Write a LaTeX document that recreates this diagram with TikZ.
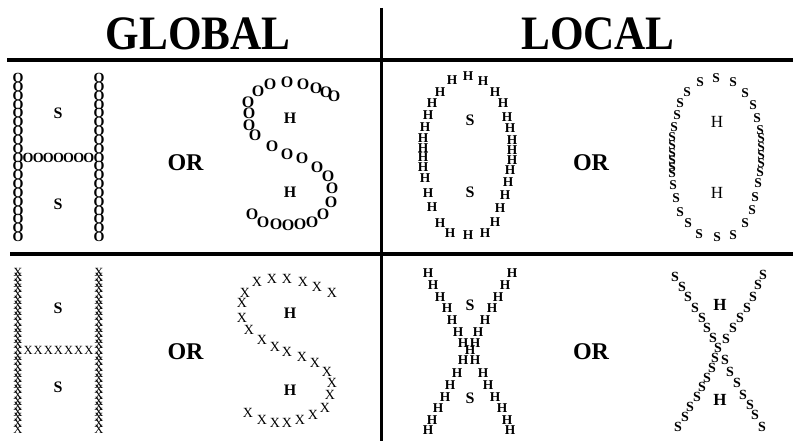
\documentclass[tikz,border=0pt]{standalone}
\usepackage{graphicx}
\usepackage{fontspec}
\setmainfont{Liberation Serif}
\begin{document}
\begin{tikzpicture}[x=1pt,y=-1pt,
  every node/.style={inner sep=0pt, outer sep=0pt},
  rule/.style={line width=3.5pt, line cap=butt},
  title/.style={font=\bfseries\fontsize{48}{48}\selectfont, anchor=base},
  ortxt/.style={font=\bfseries\fontsize{24}{24}\selectfont},
  lab/.style={font=\bfseries\fontsize{16}{16}\selectfont},
  labr/.style={font=\fontsize{17}{17}\selectfont},
  oh/.style={font=\bfseries\fontsize{14}{14}\selectfont},
  os/.style={font=\bfseries\fontsize{16}{16}\selectfont},
  ho/.style={font=\bfseries\fontsize{13.5}{13.5}\selectfont},
  so/.style={font=\bfseries\fontsize{13.5}{13.5}\selectfont},
  xh/.style={font=\fontsize{12.5}{12.5}\selectfont},
  xs/.style={font=\fontsize{14}{14}\selectfont},
  hx/.style={font=\bfseries\fontsize{13.5}{13.5}\selectfont},
  sx/.style={font=\bfseries\fontsize{14}{14}\selectfont}
]
\useasboundingbox (0,0) rectangle (793,441);

% frame lines
\coordinate (tl) at (7,60);   \coordinate (tr) at (793,60);
\coordinate (ml) at (10,254); \coordinate (mr) at (793,254);
\coordinate (vt) at (381,8);  \coordinate (vb) at (381,441);
\draw[rule] (tl) -- (tr);
\draw[rule] (ml) -- (mr);
\draw[rule, line width=3pt] (vt) -- (vb);

% titles
\node[title] (tglobal) at (198,50) {\scalebox{0.9}[1]{GLOBAL}};
\node[title] (tlocal) at (598,50) {\scalebox{0.9}[1]{LOCAL}};

% OR labels
\node[ortxt] (or1) at (185.5,163) {OR};
\node[ortxt] (or2) at (591,163) {OR};
\node[ortxt] (or3) at (185.5,352) {OR};
\node[ortxt] (or4) at (591,352) {OR};

% ---------- Panel 1: H made of O ----------
\foreach \k in {0,...,18} {
  \node[oh] (p1l\k) at (18,{78+\k*8.833}) {O};
  \node[oh] (p1r\k) at (99,{78+\k*8.833}) {O};
}
\foreach \k in {1,...,7} \node[oh] (p1c\k) at ({18+\k*10.125},157.5) {O};
\node[lab] (p1s1) at (58,113) {S};
\node[lab] (p1s2) at (58,204) {S};

% ---------- Panel 2: S made of O ----------
\foreach \x/\y [count=\i] in {258/91,270/84,287/82,303/84,316/88,326/92,334/96,
  248/102,249/113,249/125,255/135,272/146,287/154,302/158,317/167,328/176,
  332/188,331/202,323/214,312/222,300/224,288/225,276/224,263/222,252/214}
  \node[os] (p2o\i) at (\x,\y) {O};
\node[lab] (p2h1) at (290,118) {H};
\node[lab] (p2h2) at (290,192) {H};

% ---------- Panel 3: O made of H ----------
\foreach \x/\y [count=\i] in {452/80,468/76,483/81,495/92,503/103,507/117,510/128,
  512/140,512/150,512/160,510/170,508/182,505/195,500/208,495/222,485/233,
  468/235,450/233,440/223,432/207,428/193,425/178,423/167,423/157,423/148,
  423/138,425/127,428/115,432/103,440/92}
  \node[ho] (p3h\i) at (\x,\y) {H};
\node[lab] (p3s1) at (470,120) {S};
\node[lab] (p3s2) at (470,192) {S};

% ---------- Panel 4: O made of S ----------
\foreach \x/\y [count=\i] in {700/82,716/78,733/82,745/93,753/105,757/118,760/130,
  761/138,761/147,761/155,761/163,760/172,758/183,755/197,752/210,745/223,
  733/235,717/237,699/234,688/223,680/212,676/198,673/185,672/173,672/167,
  672/160,672/153,672/145,672/137,674/127,677/115,680/103,687/92}
  \node[so] (p4s\i) at (\x,\y) {S};
\node[labr] (p4h1) at (717,122) {H};
\node[labr] (p4h2) at (717,193) {H};

% ---------- Panel 5: H made of X ----------
\foreach \k in {0,...,28} {
  \node[xh] (p5l\k) at (18,{272+\k*5.607}) {X};
  \node[xh] (p5r\k) at (99,{272+\k*5.607}) {X};
}
\foreach \k in {1,...,7} \node[xh] (p5c\k) at ({18+\k*10.125},350.5) {X};
\node[lab] (p5s1) at (58,308) {S};
\node[lab] (p5s2) at (58,387) {S};

% ---------- Panel 6: S made of X ----------
\foreach \x/\y [count=\i] in {257/282,272/279,287/279,303/282,317/287,332/293,
  245/293,242/303,242/318,249/330,262/340,275/347,287/352,302/357,315/363,327/372,
  332/383,330/395,325/408,313/415,300/420,287/423,275/423,262/420,248/413}
  \node[xs] (p6x\i) at (\x,\y) {X};
\node[lab] (p6h1) at (290,313) {H};
\node[lab] (p6h2) at (290,390) {H};

% ---------- Panel 7: X made of H ----------
\foreach \x/\y [count=\i] in {428/273,433/285,440/297,447/308,452/320,458/332,463/343,
  512/273,505/285,498/297,492/308,485/320,478/332,475/343,470/350,463/360,475/360,
  457/373,450/385,445/397,438/408,432/420,428/430,
  483/373,488/385,495/397,502/408,507/420,510/430}
  \node[hx] (p7h\i) at (\x,\y) {H};
\node[lab] (p7s1) at (470,305) {S};
\node[lab] (p7s2) at (470,398) {S};

% ---------- Panel 8: X made of S ----------
\foreach \x/\y [count=\i] in {675/277,682/287,688/297,695/308,702/318,707/328,713/338,
  763/275,758/285,753/297,747/308,740/318,733/328,726/339,718/348,
  715/358,712/368,707/378,702/387,697/397,690/407,685/417,678/427,
  725/360,730/372,737/383,743/395,750/405,755/415,762/427}
  \node[sx] (p8s\i) at (\x,\y) {S};
\node[lab,font=\bfseries\fontsize{17}{17}\selectfont] (p8h1) at (720,305) {H};
\node[lab,font=\bfseries\fontsize{17}{17}\selectfont] (p8h2) at (720,400) {H};
\end{tikzpicture}
\end{document}
